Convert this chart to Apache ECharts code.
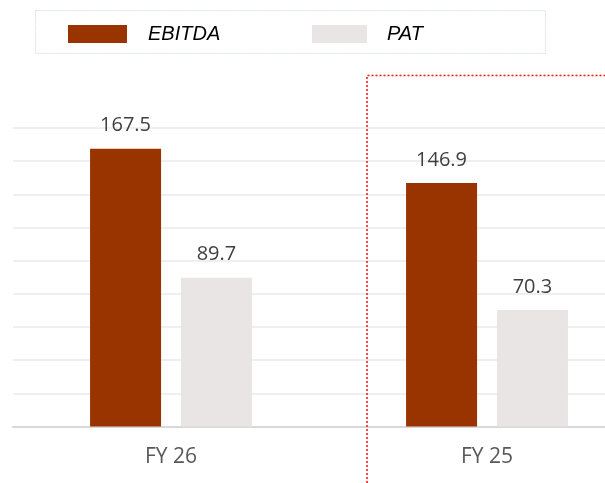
<!DOCTYPE html>
<html>
<head>
<meta charset="utf-8">
<script src="https://cdn.jsdelivr.net/npm/echarts@6/dist/echarts.min.js"></script>
<style>
html,body{margin:0;padding:0;background:#fff;}
#chart{width:605px;height:483px;}
</style>
</head>
<body>
<div id="chart"></div>
<script>
const categories = ['FY 26', 'FY 25'];
const ebitda = [167.5, 146.9];
const pat = [89.7, 70.3];
const seriesNames = ['EBITDA', 'PAT'];

const chart = echarts.init(document.getElementById('chart'), null, {renderer: 'canvas'});
const legendText = {fontFamily: 'Liberation Sans', fontStyle: 'italic', fontSize: 20, color: '#000'};
const option = {
  animation: false,
  backgroundColor: '#ffffff',
  legend: [
    {data: [seriesNames[0]], left: 68, top: 24, itemWidth: 59, itemHeight: 18, itemGap: 0, textStyle: Object.assign({padding: [0,0,0,16]}, legendText), padding: 0, icon: 'rect', selectedMode: false},
    {data: [seriesNames[1]], left: 312, top: 24, itemWidth: 55, itemHeight: 18, itemGap: 0, textStyle: Object.assign({padding: [0,0,0,15]}, legendText), padding: 0, icon: 'rect', selectedMode: false}
  ],
  grid: {left: 13, right: -40, top: 128, bottom: 56.5, containLabel: false, outerBoundsMode: 'none'},
  xAxis: {
    type: 'category',
    data: categories,
    axisLine: {lineStyle: {color: '#d9d9d9', width: 2}},
    axisTick: {show: false},
    axisLabel: {color: '#595959', fontSize: 21, fontFamily: 'Open Sans', margin: 20}
  },
  yAxis: {
    type: 'value', min: 0, max: 180, interval: 20,
    axisLabel: {show: false}, axisLine: {show: false}, axisTick: {show: false},
    splitLine: {lineStyle: {color: '#efefef', width: 2}}
  },
  series: [
    {name: seriesNames[0], type: 'bar', data: ebitda, barWidth: 71, barGap: '28%',
     itemStyle: {color: '#993300'},
     label: {show: true, position: 'top', distance: 13, color: '#404040', fontSize: 20, fontFamily: 'Open Sans'}},
    {name: seriesNames[1], type: 'bar', data: pat, barWidth: 71,
     itemStyle: {color: '#e9e5e5'},
     label: {show: true, position: 'top', distance: 13, color: '#404040', fontSize: 20, fontFamily: 'Open Sans'}}
  ],
  graphic: [
    {type: 'rect', shape: {x: 35.5, y: 10.5, width: 510, height: 43}, style: {fill: 'none', stroke: '#d6e2f2', lineWidth: 1, lineDash: [2, 1]}, z: -1},
    {type: 'polyline', shape: {points: [[367, 483], [367, 75.5], [605, 75.5]]}, style: {fill: 'none', stroke: '#ee1111', lineWidth: 1.5, lineDash: [2, 2]}, z: 10}
  ]
};
chart.setOption(option);
</script>
</body>
</html>
